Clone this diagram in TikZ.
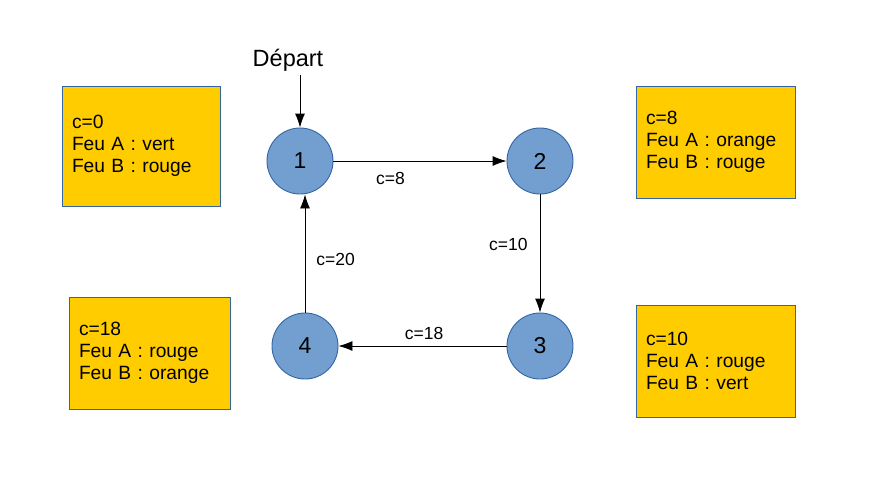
\documentclass[tikz,border=0pt]{standalone}
\usepackage{fontspec}
\setmainfont{Liberation Sans}
\usepackage{tikz}
\usetikzlibrary{positioning, arrows.meta}
\definecolor{bleu}{HTML}{729FCF}
\definecolor{bleufonce}{HTML}{3465A4}
\definecolor{jaune}{HTML}{FFCC00}
\tikzstyle{etat} = [draw=bleufonce, fill=bleu, circle, minimum size=66pt, inner sep=0pt, font=\fontsize{23}{27}\selectfont]
\tikzstyle{info} = [draw=bleufonce, fill=jaune, rectangle, inner xsep=10pt, inner ysep=0pt, align=left, font=\fontsize{19.2}{22}\selectfont]
\tikzstyle{cout} = [font=\fontsize{17.5}{20}\selectfont, inner sep=0pt]
\tikzstyle{depart} = [font=\fontsize{23.5}{27}\selectfont]

\begin{document}
\begin{tikzpicture}[x=1pt, y=-1pt, node distance=240pt, >={Latex[length=14pt,width=10pt]}, line width=0.9pt]
	\useasboundingbox (0,0) rectangle (878,490);
	\node [etat] (e1) at (300,161) {1};
	\node [etat, right of=e1] (e2) {2};
	\node [etat, below of=e2, node distance=185pt] (e3) {3};
	\node [etat, left of=e3, node distance=235pt] (e4) {4};
	\node [depart, above of=e1, node distance=101pt, xshift=-12pt] (dep) {Départ};

	\draw [->] (e1.north |- dep.south) -- (e1.north);
	\draw [->] (e1.east) -- node[cout, below=11pt, pos=0.33] {c=8} (e2.west);
	\draw [->] (e2.south) -- node[cout, left=12pt, pos=0.42] {c=10} (e3.north);
	\draw [->] (e3.west) -- node[cout, above=6pt, pos=0.49] {c=18} (e4.east);
	\draw [->] (e4.north) -- node[cout, right=11pt, pos=0.45] {c=20} (e4.north |- e1.south);

	\node [info, text width=138pt, minimum height=120pt] (b1) at (141,146) {c=0\\Feu A : vert\\Feu B : rouge};
	\node [info, text width=139pt, minimum height=112pt] (b2) at (715.5,142) {c=8\\Feu A : orange\\Feu B : rouge};
	\node [info, text width=141pt, minimum height=112pt] (b3) at (149.5,353) {c=18\\Feu A : rouge\\Feu B : orange};
	\node [info, text width=139pt, minimum height=112pt] (b4) at (715.5,361) {c=10\\Feu A : rouge\\Feu B : vert};
\end{tikzpicture}
\end{document}
